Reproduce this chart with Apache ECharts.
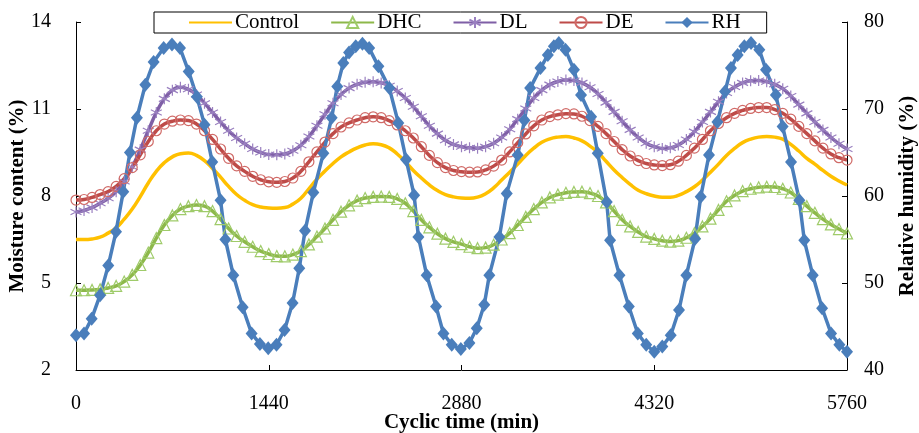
<!DOCTYPE html>
<html>
<head>
<meta charset="utf-8">
<script src="https://cdn.jsdelivr.net/npm/echarts@6/dist/echarts.min.js"></script>
<style>
html,body{margin:0;padding:0;background:#fff;}
#chart{width:919px;height:433px;}
</style>
</head>
<body>
<div id="chart"></div>
<script>
// Sample times (min) for Control, DHC, DL, DE
const timeMin = [
  0,60,120,180,240,300,360,420,480,540,600,660,
  720,780,840,900,960,1020,1080,1140,1200,1260,1320,1380,
  1440,1500,1560,1620,1680,1740,1800,1860,1920,1980,2040,2100,
  2160,2220,2280,2340,2400,2460,2520,2580,2640,2700,2760,2820,
  2880,2940,3000,3060,3120,3180,3240,3300,3360,3420,3480,3540,
  3600,3660,3720,3780,3840,3900,3960,4020,4080,4140,4200,4260,
  4320,4380,4440,4500,4560,4620,4680,4740,4800,4860,4920,4980,
  5040,5100,5160,5220,5280,5340,5400,5460,5520,5580,5640,5700,
  5760
];
const control = [
  6.5,6.5,6.52,6.58,6.72,6.9,7.2,7.55,7.98,8.45,8.85,9.15,
  9.35,9.46,9.48,9.4,9.22,8.95,8.65,8.33,8.05,7.85,7.7,7.62,
  7.59,7.58,7.6,7.72,7.92,8.25,8.58,8.86,9.12,9.35,9.52,9.66,
  9.76,9.8,9.77,9.66,9.45,9.18,8.88,8.62,8.38,8.19,8.05,7.97,
  7.93,7.92,7.96,8.08,8.28,8.55,8.82,9.1,9.4,9.65,9.85,9.97,
  10.03,10.05,10.0,9.9,9.72,9.5,9.2,8.9,8.64,8.4,8.2,8.08,
  8.0,7.96,7.96,8.02,8.15,8.32,8.55,8.82,9.1,9.4,9.64,9.84,
  9.96,10.03,10.05,10.03,9.96,9.78,9.55,9.3,9.1,8.88,8.68,8.52,
  8.38
];
const dhc = [
  4.75,4.75,4.76,4.78,4.83,4.9,5.05,5.28,5.62,6.05,6.55,7.0,
  7.33,7.55,7.65,7.69,7.65,7.48,7.2,6.88,6.62,6.42,6.25,6.1,
  6.0,5.93,5.92,5.98,6.1,6.33,6.6,6.88,7.18,7.46,7.68,7.84,
  7.93,7.97,7.98,7.97,7.9,7.75,7.48,7.18,6.92,6.7,6.53,6.42,
  6.34,6.25,6.2,6.22,6.32,6.5,6.72,7.0,7.28,7.55,7.78,7.95,
  8.05,8.11,8.14,8.15,8.1,8.0,7.78,7.48,7.18,6.95,6.76,6.6,
  6.52,6.46,6.43,6.46,6.56,6.72,6.95,7.22,7.52,7.82,8.02,8.17,
  8.25,8.3,8.32,8.31,8.25,8.12,7.9,7.65,7.42,7.2,7.02,6.86,
  6.71
];
const dl = [
  7.45,7.5,7.6,7.75,7.92,8.15,8.5,9.0,9.6,10.25,10.88,11.35,
  11.65,11.75,11.68,11.5,11.2,10.88,10.55,10.25,10.0,9.8,9.62,9.5,
  9.43,9.42,9.45,9.56,9.75,10.05,10.42,10.82,11.2,11.5,11.72,11.85,
  11.92,11.94,11.9,11.8,11.62,11.38,11.08,10.75,10.42,10.15,9.92,9.78,
  9.7,9.66,9.65,9.7,9.82,10.02,10.3,10.65,11.02,11.38,11.65,11.84,
  11.95,12.0,11.98,11.9,11.75,11.52,11.22,10.9,10.58,10.28,10.02,9.82,
  9.7,9.64,9.66,9.76,9.95,10.22,10.55,10.9,11.25,11.55,11.76,11.9,
  11.97,11.98,11.94,11.85,11.7,11.45,11.15,10.85,10.55,10.28,10.02,9.8,
  9.62
];
const de = [
  7.86,7.88,7.95,8.05,8.15,8.33,8.6,8.98,9.42,9.88,10.25,10.48,
  10.58,10.62,10.6,10.48,10.25,9.95,9.62,9.3,9.04,8.85,8.68,8.56,
  8.49,8.47,8.5,8.62,8.85,9.18,9.52,9.86,10.15,10.38,10.52,10.62,
  10.7,10.73,10.7,10.6,10.45,10.25,10.0,9.7,9.4,9.15,8.98,8.88,
  8.84,8.82,8.83,8.9,9.03,9.24,9.52,9.84,10.14,10.42,10.62,10.74,
  10.8,10.84,10.83,10.75,10.6,10.4,10.15,9.88,9.6,9.38,9.22,9.12,
  9.07,9.05,9.08,9.2,9.4,9.65,9.95,10.25,10.5,10.7,10.85,10.95,
  11.02,11.05,11.05,10.98,10.85,10.65,10.4,10.15,9.9,9.65,9.45,9.32,
  9.24
];
// RH markers (min, %)
const rhTime = [
  0,60,117,180,241,299,353,403,455,518,580,655,717,777,842,903,960,1018,1080,1116,1175,1245,1312,1374,1436,
  1498,1558,1618,1668,1711,1773,1848,1910,1952,1997,2040,2090,2140,2190,2259,2341,2408,2466,2526,2558,2620,2690,2745,2807,2875,
  2939,2994,3050,3088,3163,3218,3300,3350,3393,3470,3525,3570,3607,3657,3720,3773,3848,3898,3965,3990,4060,4130,4197,4260,4320,
  4380,4443,4505,4560,4625,4667,4729,4792,4849,4893,4943,4993,5043,5105,5155,5229,5279,5342,5404,5441,5504,5574,5641,5703,5760
];
const rhValue = [
  44.0,44.2,45.9,48.6,52.0,55.9,60.5,65.0,69.0,72.8,75.4,77.0,77.4,77.0,74.3,71.4,68.2,63.9,59.5,55.0,50.9,47.2,44.2,43.0,42.5,
  42.9,44.6,47.7,51.7,56.0,60.4,64.9,69.0,72.6,75.3,76.5,77.2,77.5,77.0,74.9,72.4,68.4,64.2,60.1,55.3,50.9,47.3,44.2,42.9,42.4,
  43.1,44.8,47.5,50.9,55.3,60.3,64.7,68.7,72.4,74.7,76.2,77.2,77.6,76.8,74.5,71.6,69.1,64.9,59.3,54.9,50.9,47.3,44.2,42.9,42.1,
  42.7,44.0,46.9,50.9,55.1,59.9,64.7,68.5,72.0,74.7,76.2,77.2,77.6,76.8,74.5,71.6,68.0,63.9,59.5,54.9,50.9,47.1,44.2,42.9,42.1
];
const xTicks = {min: 0, max: 5760, interval: 1440};
const leftTicks = {min: 2, max: 14, interval: 3};
const rightTicks = {min: 40, max: 80, interval: 10};
const seriesNames = ['Control', 'DHC', 'DL', 'DE', 'RH'];

const pair = (xs, ys) => ys.map((v, i) => [xs[i], v]);
const FONT = '"Liberation Serif", "Times New Roman", serif';
const asterisk = 'path://M0,-5L0,5M-4.33,-2.5L4.33,2.5M-4.33,2.5L4.33,-2.5';
const plain = v => String(v);

const axisCommon = {
  axisLine: {show: true, lineStyle: {color: '#000', width: 1}},
  axisTick: {show: true, inside: true, length: 5, lineStyle: {color: '#000'}},
  splitLine: {show: false},
  nameMoveOverlap: false,
  nameTextStyle: {fontFamily: FONT, fontSize: 21, fontWeight: 'bold', color: '#000'}
};

const chart = echarts.init(document.getElementById('chart'), null, {renderer: 'canvas'});
chart.setOption({
  animation: false,
  backgroundColor: '#fff',
  grid: {left: 76, right: 72, top: 22, bottom: 63, containLabel: false, outerBoundsMode: 'none'},
  legend: {
    data: seriesNames.map(n => n === 'Control'
      ? {name: n, itemStyle: {color: 'rgba(0,0,0,0)', borderColor: 'rgba(0,0,0,0)', borderWidth: 0}}
      : {name: n}),
    left: 154, top: 12,
    orient: 'horizontal',
    borderColor: '#000', borderWidth: 1,
    padding: [0, 26, 0, 34],
    itemGap: 31, itemWidth: 43, itemHeight: 14,
    textStyle: {fontFamily: FONT, fontSize: 21, color: '#000', lineHeight: 21, padding: [0,0,0,-2]}
  },
  xAxis: Object.assign({}, axisCommon, {
    type: 'value', min: xTicks.min, max: xTicks.max, interval: xTicks.interval,
    name: 'Cyclic time (min)', nameLocation: 'middle', nameGap: 42,
    axisLabel: {fontFamily: FONT, fontSize: 20, color: '#000', margin: 24, formatter: plain}
  }),
  yAxis: [
    Object.assign({}, axisCommon, {
      type: 'value', position: 'left', min: leftTicks.min, max: leftTicks.max, interval: leftTicks.interval,
      name: 'Moisture content (%)', nameLocation: 'middle', nameGap: 48,
      axisLabel: {fontFamily: FONT, fontSize: 20, color: '#000', margin: 25, formatter: plain}
    }),
    Object.assign({}, axisCommon, {
      type: 'value', position: 'right', min: rightTicks.min, max: rightTicks.max, interval: rightTicks.interval,
      name: 'Relative humidity (%)', nameLocation: 'middle', nameGap: 50,
      axisLabel: {fontFamily: FONT, fontSize: 20, color: '#000', margin: 17, formatter: plain}
    })
  ],
  series: [
    {
      name: 'Control', type: 'line', yAxisIndex: 0, smooth: true, symbol: 'none',
      data: pair(timeMin, control),
      lineStyle: {color: '#FFC000', width: 3.5},
      itemStyle: {color: '#FFC000'}
    },
    {
      name: 'DHC', type: 'line', yAxisIndex: 0, smooth: true, symbol: 'triangle', symbolSize: 11, showAllSymbol: true,
      data: pair(timeMin, dhc),
      lineStyle: {color: '#8DB84A', width: 3.5},
      itemStyle: {color: 'rgba(255,255,255,0)', borderColor: '#9FCB6A', borderWidth: 1.2}
    },
    {
      name: 'DL', type: 'line', yAxisIndex: 0, smooth: true, symbol: asterisk, symbolSize: 11, showAllSymbol: true,
      data: pair(timeMin, dl),
      lineStyle: {color: '#7F5FA6', width: 3.5},
      itemStyle: {color: 'rgba(255,255,255,0)', borderColor: '#9A80C0', borderWidth: 1.2}
    },
    {
      name: 'DE', type: 'line', yAxisIndex: 0, smooth: true, symbol: 'circle', symbolSize: 10, showAllSymbol: true,
      data: pair(timeMin, de),
      lineStyle: {color: '#BE4B48', width: 3.5},
      itemStyle: {color: 'rgba(255,255,255,0)', borderColor: '#D06A67', borderWidth: 1.2}
    },
    {
      name: 'RH', type: 'line', yAxisIndex: 1, smooth: false, symbol: 'diamond', symbolSize: [12, 14], showAllSymbol: true,
      data: pair(rhTime, rhValue),
      lineStyle: {color: '#4A7EBB', width: 3.5},
      itemStyle: {color: '#4A7EBB'}
    }
  ]
});
</script>
</body>
</html>
